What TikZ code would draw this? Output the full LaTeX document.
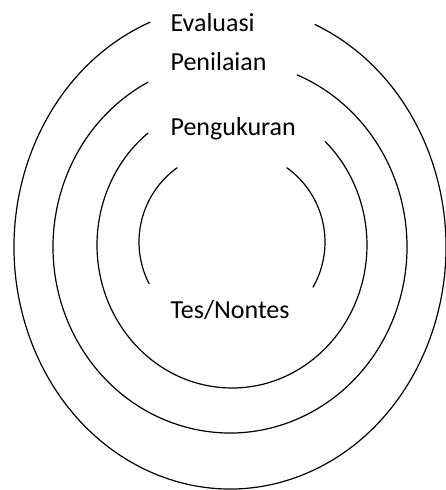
\documentclass[tikz,border=0pt]{standalone}
\usepackage{fontspec}
\setmainfont{Carlito}
\tikzset{every picture/.style={line width=0.9pt}}
\tikzset{lbl/.style={anchor=base west, inner sep=0pt, font=\fontsize{19.5}{23}\selectfont}}
\begin{document}
\begin{tikzpicture}[x=0.75pt, y=0.75pt, line join=round, line cap=round]
\useasboundingbox (0,0) rectangle (446,490);
\path
(230,243) coordinate (E)
(230,243) coordinate (P)
(232,245) coordinate (U)
(232,248) coordinate (T);
% rings, open at the top for the labels
\foreach \c/\a/\b/\s/\e in {E/216/242/111.7/426.8, P/177/186/117.6/427.7, U/135/143/128.5/406.4, T/93/92/126.2/206.9, T/93/92/-29.4/53.8}
\draw ([shift={({\a*cos(\s)},{\b*sin(\s)})}]\c) arc[start angle=\s, end angle=\e, x radius=\a, y radius=\b];
\node[lbl] (eval) at (170,458.3) {Evaluasi};
\node[lbl] (nilai) at (170,419) {Penilaian};
\node[lbl] (ukur) at (170,354) {Pengukuran};
\node[lbl] (tes) at (170,171) {Tes/Nontes};
\end{tikzpicture}
\end{document}
